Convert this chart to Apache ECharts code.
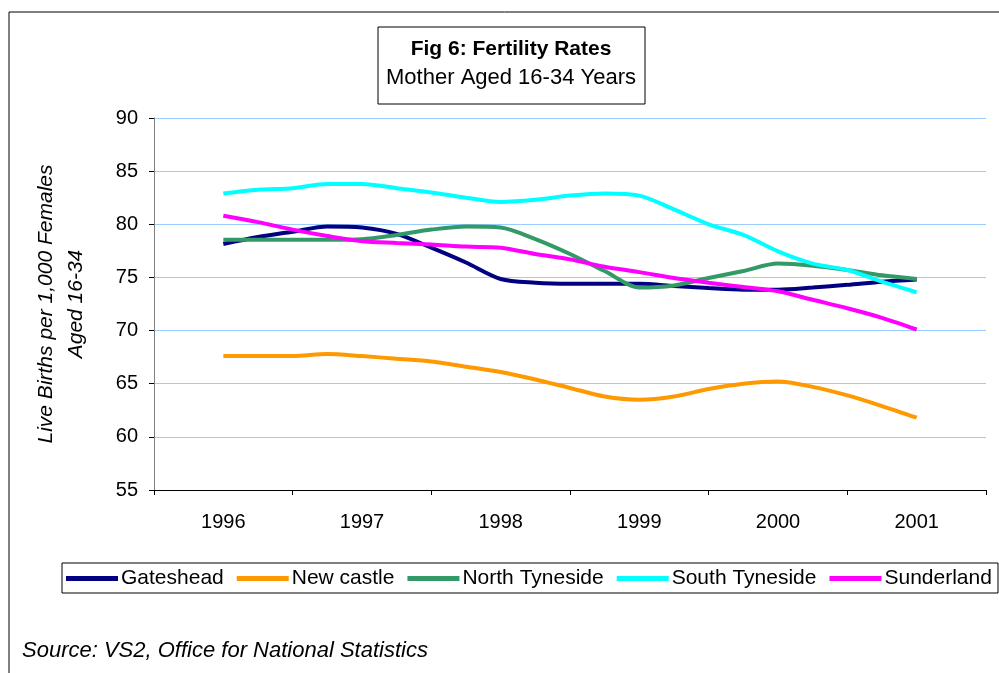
<!DOCTYPE html>
<html>
<head>
<meta charset="utf-8">
<script src="https://cdn.jsdelivr.net/npm/echarts@6/dist/echarts.min.js"></script>
<style>
    html, body { margin: 0; padding: 0; background: #fff; }
    #main { width: 999px; height: 673px; }
</style>
</head>
<body>
<div id="main"></div>
<script>
    var years = ['1996', '1997', '1998', '1999', '2000', '2001'];
    // readings taken every quarter year, 1996 to 2001
    var times = [1996, 1996.25, 1996.5, 1996.75, 1997, 1997.25, 1997.5, 1997.75,
                 1998, 1998.25, 1998.5, 1998.75, 1999, 1999.25, 1999.5, 1999.75,
                 2000, 2000.25, 2000.5, 2000.75, 2001];
    var gateshead = [78.15, 78.8, 79.3, 79.8, 79.7, 79.1, 77.8, 76.4, 74.85, 74.5, 74.4,
                     74.4, 74.4, 74.2, 74.0, 73.85, 73.85, 74.05, 74.3, 74.6, 74.8];
    var newcastle = [67.6, 67.6, 67.6, 67.8, 67.6, 67.35, 67.1, 66.6, 66.1, 65.4, 64.6,
                     63.8, 63.5, 63.8, 64.5, 65.0, 65.2, 64.7, 63.9, 62.9, 61.8];
    var northTyneside = [78.55, 78.55, 78.55, 78.55, 78.6, 79.0, 79.5, 79.8, 79.7, 78.6, 77.2,
                         75.6, 74.06, 74.25, 74.95, 75.6, 76.3, 76.1, 75.7, 75.2, 74.85];
    var southTyneside = [82.9, 83.25, 83.4, 83.8, 83.8, 83.4, 83.0, 82.5, 82.1, 82.3, 82.7,
                         82.9, 82.7, 81.4, 80.0, 79.0, 77.45, 76.3, 75.7, 74.6, 73.6];
    var sunderland = [80.8, 80.2, 79.5, 78.9, 78.4, 78.24, 78.1, 77.9, 77.8, 77.2, 76.7,
                      76.0, 75.5, 74.95, 74.5, 74.1, 73.7, 72.9, 72.1, 71.2, 70.1];

    function pairs(vals) {
        return vals.map(function (v, i) { return [times[i], v]; });
    }

    var myChart = echarts.init(document.getElementById('main'));
    var font = 'Liberation Sans, Arial, sans-serif';

    function line(name, color, vals) {
        return {
            name: name,
            type: 'line',
            xAxisIndex: 1,
            data: pairs(vals),
            smooth: 0.3,
            showSymbol: false,
            lineStyle: { color: color, width: 4 },
            itemStyle: { color: color },
            animation: false
        };
    }

    var option = {
        backgroundColor: '#fff',
        textStyle: { fontFamily: font },
        grid: { left: 154, right: 13, top: 118, bottom: 183, outerBoundsMode: 'none' },
        graphic: [
            {   // outer frame
                type: 'rect', shape: { x: 9, y: 12, width: 1010, height: 700 },
                style: { fill: 'none', stroke: '#000', lineWidth: 1 }, silent: true
            },
            {
                type: 'rect', shape: { x: 378, y: 27, width: 267, height: 77 },
                style: { fill: '#fff', stroke: '#000', lineWidth: 1 }, silent: true
            },
            {
                type: 'text', x: 511, y: 49,
                style: { text: 'Fig 6: Fertility Rates', textAlign: 'center', textVerticalAlign: 'middle',
                         font: 'bold 21px ' + font, fill: '#000' }
            },
            {
                type: 'text', x: 511, y: 78,
                style: { text: 'Mother Aged 16-34 Years', textAlign: 'center', textVerticalAlign: 'middle',
                         font: '22px ' + font, fill: '#000' }
            },
            {
                type: 'rect', shape: { x: 62, y: 563, width: 936, height: 30 },
                style: { fill: 'none', stroke: '#000', lineWidth: 1 }, silent: true
            },
            {
                type: 'text', x: 22, y: 651,
                style: { text: 'Source: VS2, Office for National Statistics', textVerticalAlign: 'middle',
                         font: 'italic 22px ' + font, fill: '#000' }
            }
        ],
        legend: {
            left: 66, top: 568, padding: 0,
            icon: 'rect', itemWidth: 52, itemHeight: 5, itemGap: 13,
            textStyle: { fontSize: 21, color: '#000', padding: [0, 0, 0, -2] },
            data: ['Gateshead', 'New castle', 'North Tyneside', 'South Tyneside', 'Sunderland']
        },
        xAxis: [
            {
                type: 'category',
                data: years,
                boundaryGap: true,
                axisLine: { lineStyle: { color: '#000', width: 1 } },
                axisTick: { show: true, length: 5, interval: 0, lineStyle: { color: '#000' } },
                axisLabel: { fontSize: 20, color: '#000', margin: 22, interval: 0 },
                splitLine: { show: false }
            },
            {
                type: 'value', min: 1995.5, max: 2001.5, show: false
            }
        ],
        yAxis: {
            type: 'value',
            min: 55, max: 90, interval: 5,
            name: 'Live Births per 1,000 Females\nAged 16-34',
            nameLocation: 'middle',
            nameRotate: 90,
            nameGap: 63,
            nameTextStyle: { fontSize: 21, fontStyle: 'italic', color: '#000', lineHeight: 30, align: 'center' },
            axisLine: { show: true, lineStyle: { color: '#808080', width: 1 } },
            axisTick: { show: true, length: 5, lineStyle: { color: '#000' } },
            axisLabel: { fontSize: 20, color: '#000', margin: 16 },
            splitLine: { show: true, lineStyle: { color: '#99CCFF', width: 1 } }
        },
        series: [
            line('Gateshead', '#000080', gateshead),
            line('New castle', '#FF9900', newcastle),
            line('North Tyneside', '#339966', northTyneside),
            line('South Tyneside', '#00FFFF', southTyneside),
            line('Sunderland', '#FF00FF', sunderland)
        ]
    };
    myChart.setOption(option);
</script>
</body>
</html>
